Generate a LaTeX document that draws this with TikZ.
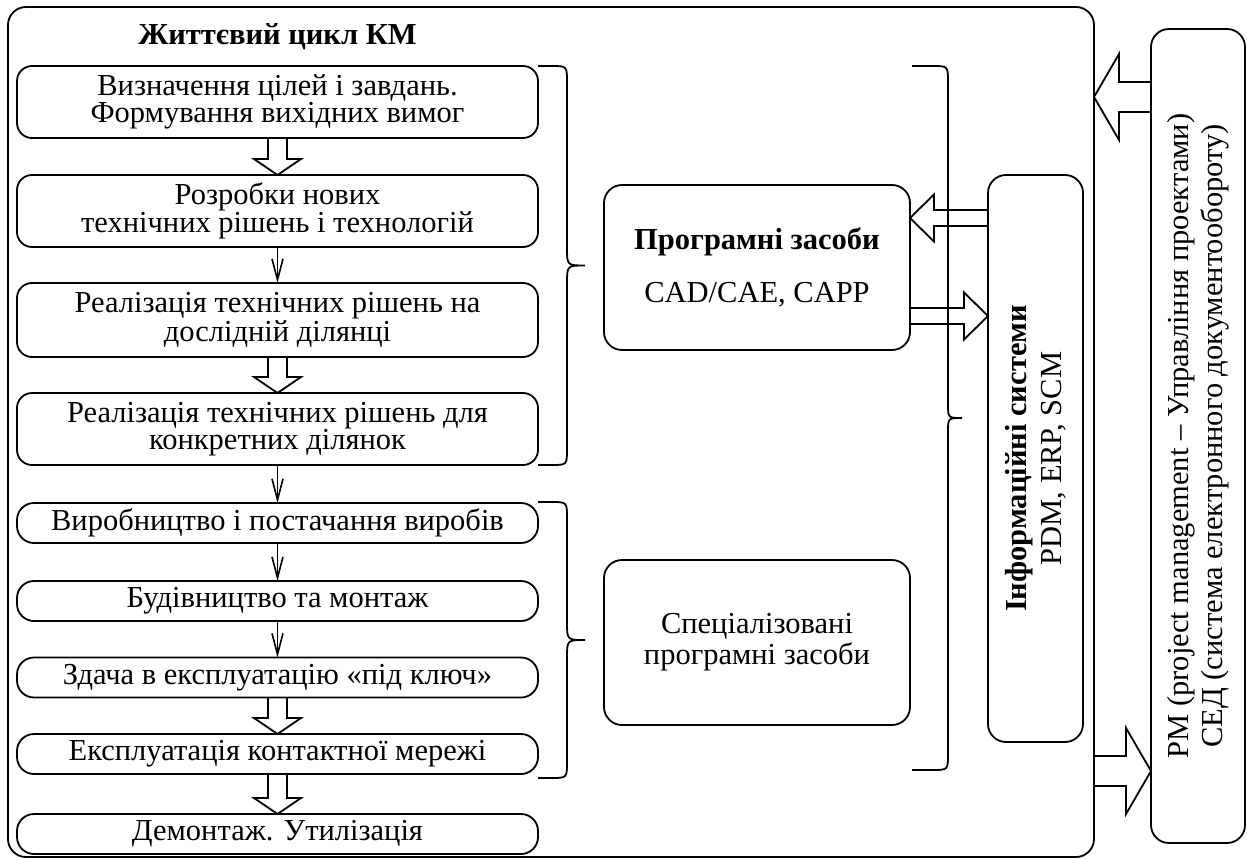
\documentclass[tikz,border=0pt]{standalone}
\usepackage{fontspec}
\setmainfont{Liberation Serif}
\usetikzlibrary{calc,arrows.meta}

% hollow block arrow: start, tip, shaft half-width, head half-width, head length
\newcommand\blockarrow[5]{%
  \path ($(#2)!#5!(#1)$) coordinate (bh);
  \draw[blk] ($(#1)!#3!90:(#2)$) -- ($(bh)!#3!90:(#2)$) -- ($(bh)!#4!90:(#2)$) -- (#2)
    -- ($(bh)!#4!-90:(#2)$) -- ($(bh)!#3!-90:(#2)$) -- ($(#1)!#3!-90:(#2)$);
}

% right-hand curly bracket: top end, bottom end, reach of the spine, depth of the point
\newcommand\sidebrace[4]{%
  \draw[brc] let \p1=(#1), \p2=(#2), \p3=($(#1)!0.5!(#2)$) in
    (\p1) -- ({\x1+#3-16pt},\y1) .. controls ({\x1+#3},\y1) .. ({\x1+#3},{\y1-16pt})
    -- ({\x1+#3},{\y3+#4}) .. controls ({\x1+#3},\y3) .. ({\x1+#3+#4},\y3)
    .. controls ({\x1+#3},\y3) .. ({\x1+#3},{\y3-#4})
    -- ({\x1+#3},{\y2+16pt}) .. controls ({\x1+#3},\y2) .. ({\x1+#3-16pt},\y2) -- (\p2);
}

\begin{document}
\begin{tikzpicture}[x=1pt,y=-1pt,
  every node/.style={inner sep=0pt, outer sep=0pt},
  txt/.style={align=center, font=\fontsize{30.5}{27}\selectfont},
  stage/.style={txt, draw, line width=1.8pt, rounded corners=15pt, minimum width=521pt},
  bar/.style={stage, rounded corners=17pt, minimum height=40pt},
  tool/.style={draw, line width=1.8pt, rounded corners=18pt, minimum width=306pt, minimum height=165pt},
  frm/.style={draw, line width=1.8pt, rounded corners=18pt},
  blk/.style={line width=1.8pt, line join=miter},
  thin/.style={line width=1.6pt, -{Straight Barb[length=21pt,width=11pt]}},
  brc/.style={line width=1.8pt},
]
\fill[white] (0,0) rectangle (1252,859);
\useasboundingbox (0,0) rectangle (1252,859);

% outer frame of the life cycle
\node[frm, minimum width=1086pt, minimum height=850pt] (frame) at (551,432) {};
\node[txt, anchor=base, font=\fontsize{30.5}{27}\selectfont\bfseries] (title) at (277.5,45) {Життєвий цикл КМ};

% life-cycle stages
\node[stage, minimum height=72pt] (b1) at (277.5,102) {Визначення цілей і завдань.\\Формування вихідних вимог};
\node[stage, minimum height=72pt] (b2) at (277.5,211) {Розробки нових\\технічних рішень і технологій};
\node[stage, minimum height=74pt] (b3) at (277.5,320) {Реалізація технічних рішень на\\дослідній ділянці};
\node[stage, minimum height=72pt] (b4) at (277.5,429) {Реалізація технічних рішень для\\конкретних ділянок};
\node[bar] (b5) at (277.5,523) {Виробництво і постачання виробів};
\node[bar] (b6) at (277.5,601) {Будівництво та монтаж};
\node[bar] (b7) at (277.5,677.5) {Здача в експлуатацію «під ключ»};
\node[bar] (b8) at (277.5,754) {Експлуатація контактної мережі};
\node[bar] (b9) at (277.5,834) {Демонтаж. Утилізація};

% software boxes
\node[tool] (prog) at (757,267.5) {};
\node[txt] (progtext) at (prog.center) {\textbf{Програмні засоби}\\[26pt]CAD/CAE, CAPP};
\node[tool] (spec) at (757,642.5) {};
\node[txt, font=\fontsize{30.5}{31}\selectfont] (spectext) at (spec.center) {Спеціалізовані\\програмні засоби};

% information systems
\node[frm, minimum width=95pt, minimum height=567pt] (info) at (1035.5,458.5) {};
\node[txt, rotate=90, font=\fontsize{30.5}{35}\selectfont] (infotext) at (info.center) {\textbf{Інформаційні системи}\\PDM, ERP, SCM};

% project management and document flow
\node[frm, minimum width=94pt, minimum height=814pt] (pm) at (1198,436) {};
\node[txt, rotate=90, font=\fontsize{30.5}{34}\selectfont] (pmtext) at (pm.center) {PM (project management – Управління проектами)\\СЕД (система електронного документообороту)};

% flow between stages
\blockarrow{b1.south}{b2.north}{9.5pt}{23.5pt}{16pt}
\draw[thin] (b2.south) -- (b3.north);
\blockarrow{b3.south}{b4.north}{9.5pt}{23.5pt}{16pt}
\draw[thin] (b4.south) -- (b5.north);
\draw[thin] (b5.south) -- (b6.north);
\draw[thin] (b6.south) -- (b7.north);
\blockarrow{b7.south}{b8.north}{9.5pt}{23.5pt}{16pt}
\blockarrow{b8.south}{b9.north}{9.5pt}{23.5pt}{16pt}

% brackets grouping the stages
\sidebrace{b1.north east}{b4.south east}{29pt}{18pt}
\sidebrace{$(b5.north east)+(0,-1)$}{$(b8.south east)+(0,4)$}{29pt}{18pt}
\sidebrace{$(prog.east |- b1.north)+(2,0)$}{$(spec.east |- b8.south)+(2,-4)$}{36pt}{14pt}

% exchange between software and information systems
\coordinate (lvlC) at (0,218);
\coordinate (lvlD) at (0,316);
\coordinate (iC) at (info.west |- lvlC);
\coordinate (gC) at (prog.east |- lvlC);
\coordinate (gD) at (prog.east |- lvlD);
\coordinate (iD) at (info.west |- lvlD);
\blockarrow{iC}{gC}{8pt}{23.5pt}{24pt}
\blockarrow{gD}{iD}{8pt}{23.5pt}{24pt}

% exchange with project management
\coordinate (lvlA) at (0,97);
\coordinate (lvlB) at (0,771);
\coordinate (pA) at (pm.west |- lvlA);
\coordinate (fA) at (frame.east |- lvlA);
\coordinate (fB) at (frame.east |- lvlB);
\coordinate (pB) at (pm.west |- lvlB);
\blockarrow{pA}{fA}{15pt}{43pt}{25pt}
\blockarrow{fB}{pB}{15pt}{43pt}{25pt}
\end{tikzpicture}
\end{document}
